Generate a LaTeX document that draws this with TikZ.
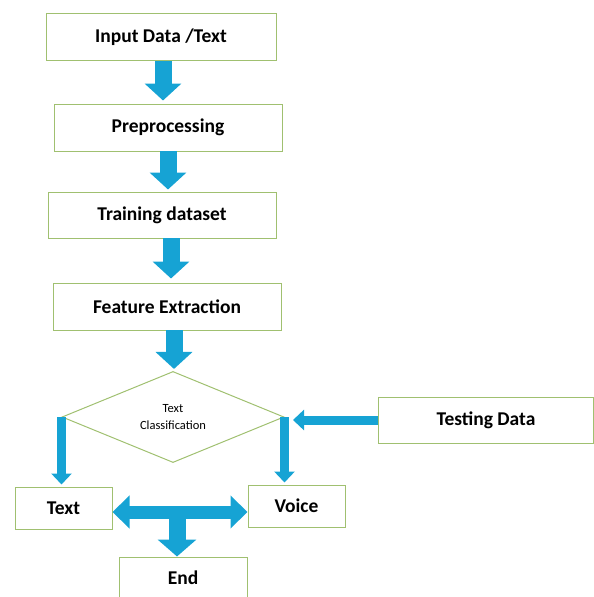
\documentclass[tikz,border=0pt]{standalone}
\usepackage{fontspec}
\setmainfont{Carlito}
\usetikzlibrary{arrows.meta,shapes.geometric,positioning}
\definecolor{boxgreen}{RGB}{160,192,112}
\definecolor{arrowblue}{RGB}{22,163,212}

\begin{document}
\begin{tikzpicture}[x=1pt,y=-1pt,
	procbox/.style={draw=boxgreen,line width=1pt,minimum height=47pt,inner sep=0pt,font=\fontsize{19.5}{22}\selectfont\bfseries},
	decbox/.style={draw=boxgreen,line width=1pt,diamond,minimum width=222pt,minimum height=90pt,inner sep=0pt,align=center,font=\fontsize{12.5}{17}\selectfont},
	bigarrow/.style={arrowblue,line width=17pt,-{Triangle[width=36pt,length=17pt]}},
	thinarrow/.style={arrowblue,line width=9pt,-{Triangle[width=20pt,length=11pt]}}]
	\useasboundingbox (0,0) rectangle (594,597);
		\node[procbox,minimum width=230pt] (input) at (161,37) {Input Data /Text};
		\node[procbox,minimum width=228pt] (prep) at (168,127.5) {Preprocessing};
		\node[procbox,minimum width=228pt,minimum height=46pt] (train) at (162,215) {Training dataset};
		\node[procbox,minimum width=228pt] (feat) at (167,306.5) {Feature Extraction};
		\node[decbox] (class) at (173,417) {Text\\Classification};
		\node[procbox,minimum width=215pt,minimum height=46pt] (test) at (486,420) {Testing Data};
		\node[procbox,minimum width=97pt,minimum height=42pt] (text) at (63.5,508) {Text};
		\node[procbox,minimum width=97pt,minimum height=42pt] (voice) at (296.5,506) {Voice};
		\node[procbox,minimum width=128pt,minimum height=42pt] (end) at (183,578) {End};
	\coordinate (a1) at (163,61);
	\coordinate (a2) at (168,151);
	\coordinate (a3) at (171,238);
	\coordinate (a4) at (174,330);
	\coordinate (tin) at (293,420);
	\coordinate (mid) at (177,512);
		\draw[bigarrow,shorten >=3pt] (a1) -- (a1 |- prep.north);
		\draw[bigarrow,shorten >=2pt] (a2) -- (a2 |- train.north);
		\draw[bigarrow,shorten >=4pt] (a3) -- (a3 |- feat.north);
		\draw[bigarrow,shorten >=2pt] (a4) -- (a4 |- class.north);
		\draw[thinarrow,shorten >=2pt] (class.west) -- (class.west |- text.north);
		\draw[thinarrow,shorten >=2pt] (class.east) -- (class.east |- voice.north);
		\draw[thinarrow] (test.west) -- (tin);
		\draw[arrowblue,line width=13pt,{Triangle[width=32pt,length=17pt]}-{Triangle[width=32pt,length=17pt]}] (text.east |- mid) -- (voice.west |- mid);
		\draw[bigarrow,-{Triangle[width=38pt,length=17pt]}] (mid) -- (mid |- end.north);
\end{tikzpicture}
\end{document}
